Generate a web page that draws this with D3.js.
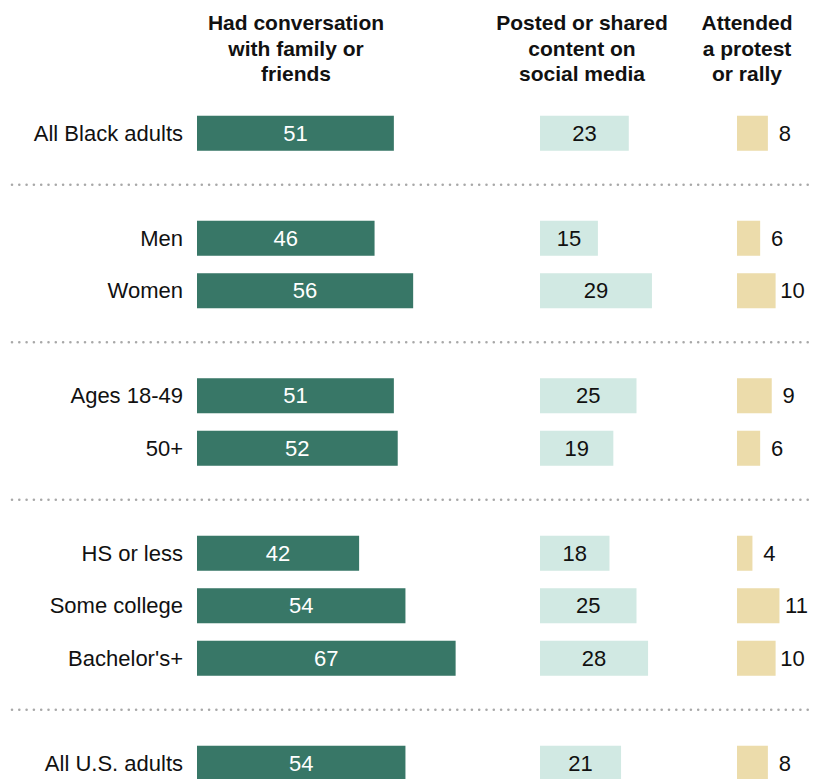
<!DOCTYPE html>
<html>
<head>
<meta charset="utf-8">
<script src="https://cdn.jsdelivr.net/npm/d3@7"></script>
<style>
  html, body { margin: 0; padding: 0; background: #fff; }
  svg { display: block; }
  text { font-family: "Liberation Sans", Arial, sans-serif; }
</style>
</head>
<body>
<svg id="chart" width="815" height="779"></svg>
<script>
// Row labels, in display order
const categories = ["All Black adults", "Men", "Women", "Ages 18-49", "50+",
  "HS or less", "Some college", "Bachelor's+", "All U.S. adults"];
// Group each row belongs to (a dotted rule separates groups)
const groups = ["all", "sex", "sex", "age", "age", "edu", "edu", "edu", "us"];

// % who did each activity
const conversation = [51, 46, 56, 51, 52, 42, 54, 67, 54];
const posted       = [23, 15, 29, 25, 19, 18, 25, 28, 21];
const attended     = [8, 6, 10, 9, 6, 4, 11, 10, 8];

const headers = [
  ["Had conversation", "with family or", "friends"],
  ["Posted or shared", "content on", "social media"],
  ["Attended", "a protest", "or rally"]
];

const svg = d3.select("#chart");

// Build vertical slots: one per row, plus a gap slot between groups
const slots = [];
const sepSlots = [];
categories.forEach((c, i) => {
  if (i > 0 && groups[i] !== groups[i - 1]) {
    const key = "sep" + i;
    slots.push(key);
    sepSlots.push(key);
  }
  slots.push(c);
});

const y = d3.scaleBand()
  .domain(slots)
  .range([107, 107 + slots.length * 52.5])
  .paddingInner(0.333)
  .paddingOuter(0.1665);

// Same px-per-point for every column
const unit = 3.86;
const xConv = d3.scaleLinear().domain([0, 100]).range([197, 197 + 100 * unit]);
const xPost = d3.scaleLinear().domain([0, 100]).range([540, 540 + 100 * unit]);
const xAtt  = d3.scaleLinear().domain([0, 100]).range([737, 737 + 100 * unit]);

const colors = { conv: "#387767", post: "#d1e9e3", att: "#ecdcab" };

// Column headers
const headerX = [296, 582, 747];
headers.forEach((lines, k) => {
  const t = svg.append("text")
    .attr("x", headerX[k])
    .attr("y", 30)
    .attr("text-anchor", "middle")
    .attr("font-size", 21)
    .attr("font-weight", "bold")
    .attr("fill", "#111");
  lines.forEach((ln, j) => {
    t.append("tspan").attr("x", headerX[k]).attr("dy", j === 0 ? 0 : 25.5).text(ln);
  });
});

// Dotted separators between groups
sepSlots.forEach(s => {
  const yy = y(s) + y.bandwidth() / 2 - 1;
  svg.append("line")
    .attr("x1", 12).attr("x2", 812)
    .attr("y1", yy).attr("y2", yy)
    .attr("stroke", "#a8a8a8")
    .attr("stroke-width", 2.6)
    .attr("stroke-linecap", "round")
    .attr("stroke-dasharray", "0 7.3");
});

const rows = categories.map((c, i) => ({
  cat: c, conv: conversation[i], post: posted[i], att: attended[i]
}));

const rowG = svg.selectAll("g.row").data(rows).join("g").attr("class", "row");

// Row labels
rowG.append("text")
  .attr("x", 183)
  .attr("y", d => y(d.cat) + y.bandwidth() / 2)
  .attr("dy", "0.35em")
  .attr("text-anchor", "end")
  .attr("font-size", 22)
  .attr("fill", "#111")
  .text(d => d.cat);

// Conversation bars
rowG.append("rect")
  .attr("x", xConv(0))
  .attr("y", d => y(d.cat))
  .attr("width", d => xConv(d.conv) - xConv(0))
  .attr("height", y.bandwidth())
  .attr("fill", colors.conv);
rowG.append("text")
  .attr("x", d => (xConv(0) + xConv(d.conv)) / 2)
  .attr("y", d => y(d.cat) + y.bandwidth() / 2)
  .attr("dy", "0.35em")
  .attr("text-anchor", "middle")
  .attr("font-size", 22)
  .attr("fill", "#fff")
  .text(d => d.conv);

// Posted bars
rowG.append("rect")
  .attr("x", xPost(0))
  .attr("y", d => y(d.cat))
  .attr("width", d => xPost(d.post) - xPost(0))
  .attr("height", y.bandwidth())
  .attr("fill", colors.post);
rowG.append("text")
  .attr("x", d => (xPost(0) + xPost(d.post)) / 2)
  .attr("y", d => y(d.cat) + y.bandwidth() / 2)
  .attr("dy", "0.35em")
  .attr("text-anchor", "middle")
  .attr("font-size", 22)
  .attr("fill", "#111")
  .text(d => d.post);

// Attended bars, label placed just past the bar
rowG.append("rect")
  .attr("x", xAtt(0))
  .attr("y", d => y(d.cat))
  .attr("width", d => xAtt(d.att) - xAtt(0))
  .attr("height", y.bandwidth())
  .attr("fill", colors.att);
rowG.append("text")
  .attr("x", d => xAtt(d.att) + 17)
  .attr("y", d => y(d.cat) + y.bandwidth() / 2)
  .attr("dy", "0.35em")
  .attr("text-anchor", "middle")
  .attr("font-size", 22)
  .attr("fill", "#111")
  .text(d => d.att);
</script>
</body>
</html>
